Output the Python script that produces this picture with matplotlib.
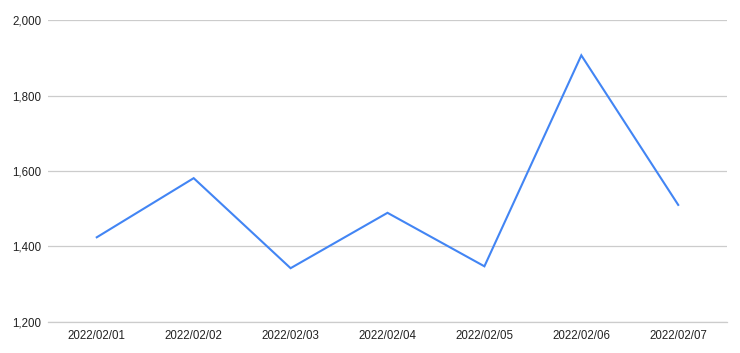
import matplotlib
matplotlib.use("Agg")
import matplotlib.pyplot as plt
from matplotlib.ticker import FuncFormatter

# datos
fechas = ['2022/02/01', '2022/02/02', '2022/02/03', '2022/02/04',
          '2022/02/05', '2022/02/06', '2022/02/07']
valores = [1424, 1581, 1342, 1489, 1347, 1907, 1510]
ticks_y = [1200, 1400, 1600, 1800, 2000]

plt.rcParams['font.family'] = ['Liberation Sans', 'DejaVu Sans']

fig = plt.figure(figsize=(7.4, 3.53), dpi=100)
ax = fig.add_axes([0.0653, 0.0887, 0.9167, 0.8538])

x = list(range(len(fechas)))
ax.plot(x, valores, color='#4285f4', linewidth=1.5, solid_joinstyle='miter')

ax.set_xlim(-0.5, len(fechas) - 0.5)
ax.set_ylim(1200, 2000)
ax.set_yticks(ticks_y)
ax.yaxis.set_major_formatter(FuncFormatter(lambda v, p: f'{int(v):,}'))
ax.set_xticks(x)
ax.set_xticklabels(fechas)

ax.grid(True, axis='y', color='#cccccc', linewidth=0.9)
ax.set_axisbelow(True)
for s in ax.spines.values():
    s.set_visible(False)
# linea base
ax.spines['bottom'].set_visible(True)
ax.spines['bottom'].set_color('#cccccc')
ax.spines['bottom'].set_linewidth(0.9)
ax.tick_params(axis='both', length=0, labelsize=8.3, colors='#222222')
ax.tick_params(axis='y', pad=5)
ax.tick_params(axis='x', pad=6)

fig.savefig('out.png', dpi=100)
